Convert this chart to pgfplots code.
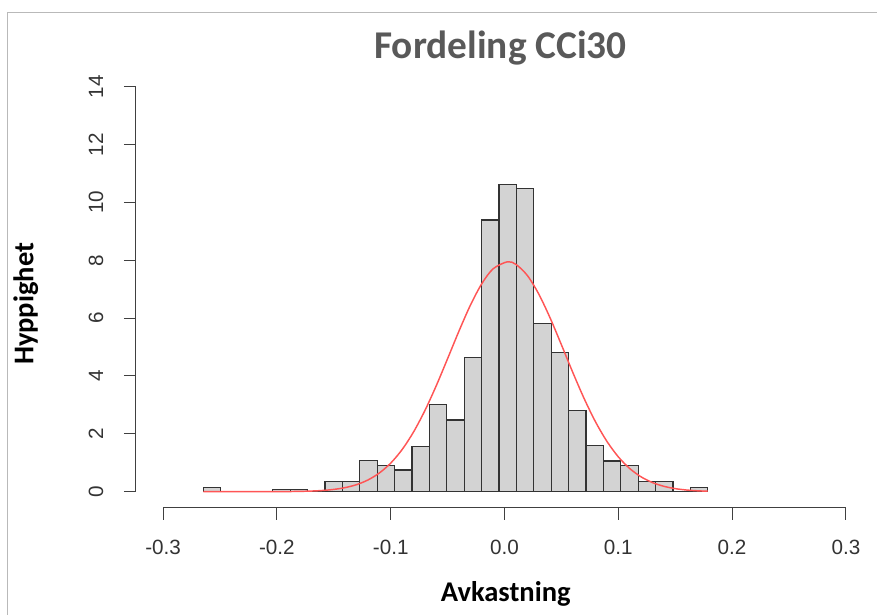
\documentclass[border=0pt]{standalone}
\usepackage{pgfplots}
\pgfplotsset{compat=1.18}
\usepackage{fontspec}
\setmainfont{Liberation Sans}
\newfontfamily\calibri{Carlito}
\definecolor{barfill}{RGB}{211,211,211}
\definecolor{curvered}{RGB}{255,85,85}
\definecolor{titlegray}{RGB}{89,89,89}
\begin{document}
\begin{tikzpicture}[x=1pt,y=1pt]
\useasboundingbox (0,0) rectangle (657.75,460.5);
\draw[gray!55, line width=1pt] (5.5,-2) -- (5.5,451) -- (665,451);
\begin{axis}[at={(101.85pt,79.575pt)}, anchor=south west, scale only axis,
  width=553.05pt, height=328.05pt,
  xmin=-0.324, xmax=0.324, ymin=-0.56, ymax=14.56,
  clip=false,
  axis x line*=bottom, axis y line*=left, axis line style={draw=none},
  tick align=outside, major tick length=9pt,
  tick style={black!75, line width=0.75pt},
  xtick={-0.3,-0.2,-0.1,0,0.1,0.2,0.3},
  xticklabels={-0.3,-0.2,-0.1,0.0,0.1,0.2,0.3},
  ytick={0,2,4,6,8,10,12,14},
  yticklabels={0,2,4,6,8,10,12,14},
  /pgf/number format/assume math mode=true,
  ticklabel style={font=\fontsize{15.5}{18}\selectfont, text=black!80},
  xticklabel style={anchor=base, yshift=-26pt},
  yticklabel style={xshift=-15.5pt, rotate=90, anchor=base},
]
\addplot[ybar interval, fill=barfill, draw=black!80, line width=0.9pt] coordinates {
(-0.2647,0.14) (-0.2494,0) (-0.2341,0) (-0.2188,0) (-0.2036,0.07) (-0.1883,0.07)
(-0.1730,0) (-0.1577,0.35) (-0.1424,0.35) (-0.1271,1.07) (-0.1118,0.90) (-0.0966,0.75)
(-0.0813,1.56) (-0.0660,3.02) (-0.0507,2.48) (-0.0354,4.63) (-0.0201,9.39) (-0.0048,10.62)
(0.0104,10.49) (0.0257,5.82) (0.0410,4.80) (0.0563,2.82) (0.0716,1.61) (0.0869,1.06)
(0.1022,0.90) (0.1175,0.35) (0.1327,0.35) (0.1480,0) (0.1633,0.14) (0.1786,0)
};
\addplot[curvered, line width=1.1pt, smooth, no marks] coordinates {
(-0.2647,0) (-0.24,0) (-0.22,0.0004) (-0.20,0.002) (-0.19,0.005) (-0.18,0.011)
(-0.17,0.022) (-0.16,0.042) (-0.15,0.079) (-0.14,0.141) (-0.13,0.244) (-0.12,0.405)
(-0.11,0.646) (-0.10,0.988) (-0.09,1.455) (-0.08,2.060) (-0.07,2.801) (-0.06,3.661)
(-0.05,4.600) (-0.04,5.553) (-0.03,6.445) (-0.02,7.188) (-0.01,7.705) (0.0025,7.947)
(0.01,7.859) (0.02,7.478) (0.03,6.840) (0.04,6.013) (0.05,5.080) (0.06,4.124)
(0.07,3.218) (0.08,2.413) (0.09,1.740) (0.10,1.205) (0.11,0.802) (0.12,0.514)
(0.13,0.316) (0.14,0.187) (0.15,0.106) (0.16,0.058) (0.17,0.030) (0.1786,0.017)
};
\draw[black!75, line width=0.75pt] (axis cs:-0.3,-0.56) -- (axis cs:0.3,-0.56);
\draw[black!75, line width=0.75pt] (axis cs:-0.324,0) -- (axis cs:-0.324,14);
\end{axis}
\node[anchor=base, font=\calibri\bfseries\fontsize{29.5}{34}\selectfont, text=titlegray] at (375.4,416.5) {Fordeling CCi30};
\node[anchor=base, font=\calibri\bfseries\fontsize{21.4}{25}\selectfont] at (379.3,9.2) {Avkastning};
\node[anchor=base, rotate=90, font=\calibri\bfseries\fontsize{21.4}{25}\selectfont] at (25,232.6) {Hyppighet};
\end{tikzpicture}
\end{document}
